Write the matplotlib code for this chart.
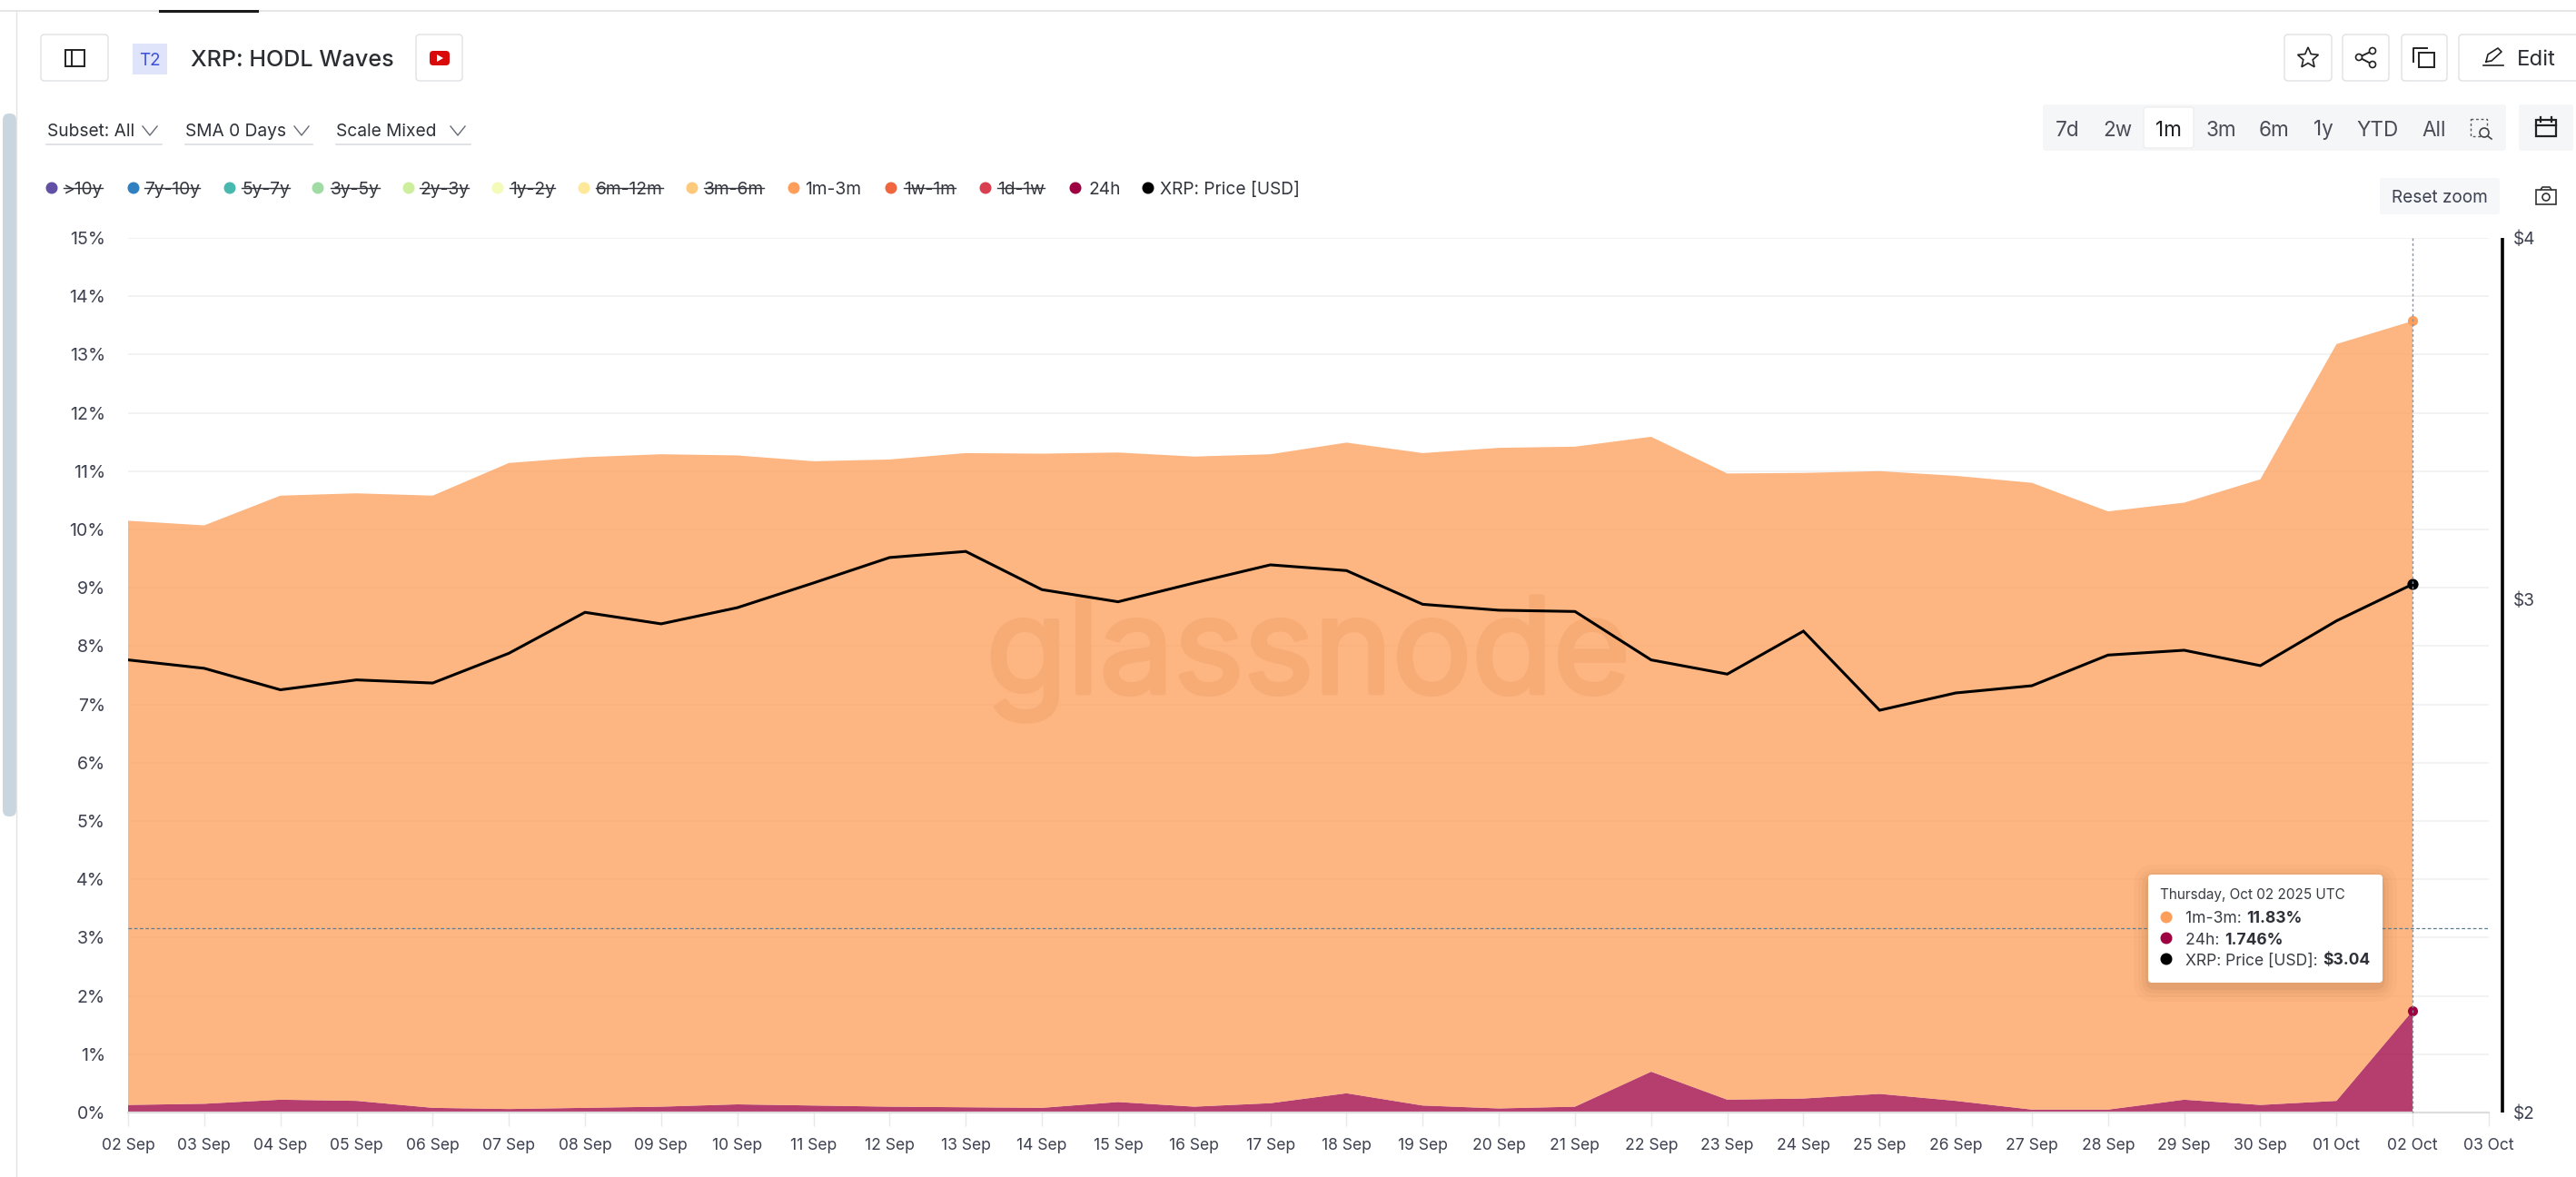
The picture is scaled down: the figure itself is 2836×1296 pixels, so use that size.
import numpy as np
import matplotlib
matplotlib.use('Agg')
import matplotlib.pyplot as plt
import matplotlib.patheffects as pe
from matplotlib.patches import FancyBboxPatch, Rectangle, Circle, Polygon

plt.rcParams['font.family'] = ['Inter', 'DejaVu Sans']

W, H = 2836, 1296
PX = 72 / 200  # font px -> pt at dpi 200

date_labels = ['02 Sep', '03 Sep', '04 Sep', '05 Sep', '06 Sep', '07 Sep', '08 Sep', '09 Sep',
               '10 Sep', '11 Sep', '12 Sep', '13 Sep', '14 Sep', '15 Sep', '16 Sep', '17 Sep',
               '18 Sep', '19 Sep', '20 Sep', '21 Sep', '22 Sep', '23 Sep', '24 Sep', '25 Sep',
               '26 Sep', '27 Sep', '28 Sep', '29 Sep', '30 Sep', '01 Oct', '02 Oct', '03 Oct']
h24 = [0.13, 0.15, 0.22, 0.20, 0.08, 0.06, 0.08, 0.10, 0.14, 0.12, 0.10, 0.09, 0.08, 0.18, 0.10, 0.16,
       0.33, 0.12, 0.07, 0.10, 0.70, 0.22, 0.24, 0.32, 0.20, 0.05, 0.05, 0.22, 0.13, 0.20, 1.746]
m1_3 = [10.02, 9.92, 10.36, 10.42, 10.50, 11.08, 11.16, 11.19, 11.13, 11.05, 11.10, 11.22, 11.22, 11.14, 11.15, 11.13,
        11.16, 11.19, 11.33, 11.32, 10.89, 10.74, 10.73, 10.68, 10.72, 10.75, 10.26, 10.24, 10.73, 12.98, 11.83]
price = [2.863, 2.844, 2.796, 2.818, 2.811, 2.878, 2.973, 2.946, 2.984, 3.043, 3.105, 3.120, 3.027, 2.998, 3.043, 3.087,
         3.073, 2.992, 2.978, 2.975, 2.863, 2.831, 2.929, 2.751, 2.789, 2.805, 2.874, 2.885, 2.850, 2.953, 3.04]
pct_ticks = list(range(16))

legend_names = ['>10y', '7y-10y', '5y-7y', '3y-5y', '2y-3y', '1y-2y', '6m-12m', '3m-6m',
                '1m-3m', '1w-1m', '1d-1w', '24h', 'XRP: Price [USD]']
legend_colors = ['#6150a5', '#2f7fc1', '#47b9ae', '#a0dba4', '#cdee9c', '#f4fab8', '#fee99a', '#fdc97a',
                 '#fd9e5a', '#f0663f', '#d8404f', '#9e0142', '#000000']
legend_off = [True, True, True, True, True, True, True, True, False, True, True, False, False]
legend_dot_x = [57, 147, 253, 350, 450, 548, 643, 762, 874, 981, 1085, 1184, 1264]
legend_text_x = [70, 159, 266, 364, 462, 561, 656, 775, 886, 995, 1098, 1198, 1277]

TXT = '#3d4150'
fig = plt.figure(figsize=(W / 200, H / 200), dpi=200, facecolor='white')

# main chart
L, R, T, B = 141, 2740, 262, 1225
ax = fig.add_axes([L / W, 1 - B / H, (R - L) / W, (B - T) / H])
x = np.arange(len(h24))
ax.stackplot(x, h24, m1_3, colors=['#9e0142', '#fd9e5a'], alpha=0.76, lw=0, zorder=2)
ax.set_xlim(0, len(date_labels) - 1)
ax.set_ylim(0, 15)
ax.set_xticks(np.arange(len(date_labels)))
ax.set_xticklabels(date_labels, fontsize=17.5 * PX, color=TXT)
ax.set_yticks(pct_ticks)
ax.set_yticklabels([f'{v}%' for v in pct_ticks], fontsize=19.5 * PX, color=TXT)
ax.grid(axis='y', color='#f0f0f0', lw=0.6, zorder=1)
ax.tick_params(axis='y', length=0, pad=9)
ax.tick_params(axis='x', length=15 * PX, width=0.5, color='#e8e8e8', pad=4.6)
for s in ['top', 'left', 'right']:
    ax.spines[s].set_visible(False)
ax.spines['bottom'].set_color('#dddddd')
ax.spines['bottom'].set_linewidth(0.8)
ax.plot(x[-1], h24[-1] + m1_3[-1], 'o', ms=3.0, color='#fd9e5a', zorder=6, clip_on=False)
ax.plot(x[-1], h24[-1], 'o', ms=3.0, color='#9e0142', zorder=6, clip_on=False)

# price on the log axis
ax2 = ax.twinx()
ax2.set_yscale('log')
ax2.set_ylim(2, 4)
ax2.plot(x, price, color='black', lw=1.1, zorder=5, solid_joinstyle='miter')
ax2.plot(x[-1], price[-1], 'o', ms=3.4, color='black', zorder=6, clip_on=False)
ax2.set_yticks([])
ax2.minorticks_off()
ax2.set_yticks([], minor=True)
for s in ax2.spines.values():
    s.set_visible(False)

# page chrome, in pixels of the screenshot
ui = fig.add_axes([0, 0, 1, 1], facecolor='none')
ui.set_xlim(0, W)
ui.set_ylim(H, 0)
ui.axis('off')


def box(x0, y0, x1, y1, fc='white', ec='#dfe1e5', r=4, lw=0.5, z=3, alpha=None):
    p = FancyBboxPatch((x0, y0), x1 - x0, y1 - y0, boxstyle=f'round,pad=0,rounding_size={r}',
                       fc=fc, ec=ec, lw=lw, zorder=z, alpha=alpha)
    ui.add_patch(p)
    return p


def text(px, py, s, size=19, color=TXT, ha='left', weight='normal', z=5):
    return ui.text(px, py, s, fontsize=size * PX, color=color, ha=ha, va='center_baseline',
                   fontweight=weight, zorder=z)


def chevron(cx, cy):
    ui.plot([cx - 8, cx, cx + 8], [cy - 5, cy + 5, cy - 5], color='#666a75', lw=0.5)


def line(xs, ys, c='#222222', lw=0.7, z=5, **kw):
    ui.plot(xs, ys, color=c, lw=lw, zorder=z, **kw)


# watermark sits under the price line, so it goes on the main axes
ax.text(1440, 763, 'glassnode', fontsize=146 * PX, color='#f7ab75', ha='center', va='baseline',
        transform=ui.transData, zorder=3, clip_on=False,
        path_effects=[pe.withStroke(linewidth=1.6, foreground='#f7ab75')])

# top strip and sidebar
line([0, W], [12, 12], '#e6e6e6', 0.7)
line([176, 283], [11.5, 11.5], '#1a1a1a', 1.1)
line([18, 18], [12, H], '#e4e4e4', 0.5)
box(3, 125, 18, 899, fc='#c9d6e0', ec='none', r=7)

# header
box(45, 38, 119, 89)
ui.add_patch(Rectangle((72, 55), 21, 18, fc='none', ec='#222222', lw=0.7, zorder=5))
line([79, 79], [55, 73])
ui.add_patch(Rectangle((146, 48), 38, 34, fc='#e0e4fa', ec='none', zorder=4))
text(165, 65, 'T2', 19, '#3f51d8', 'center')
text(210, 64, 'XRP: HODL Waves', 25.2, '#2b2d33', weight='medium')
box(458, 38, 509, 89)
box(473, 56, 495, 72, fc='#d90a0a', ec='none', r=4, z=4)
ui.add_patch(Polygon([[481, 60], [481, 68], [488, 64]], fc='white', ec='none', zorder=5))

box(2515, 38, 2567, 89)
box(2579, 38, 2630, 89)
box(2644, 38, 2694, 89)
box(2707, 38, 2860, 89)
ang = np.deg2rad(np.arange(11) * 36 - 90)
rad = np.where(np.arange(11) % 2 == 0, 12, 5.5)
ui.add_patch(Polygon(np.c_[2541 + rad * np.cos(ang), 64 + rad * np.sin(ang)], fc='none', ec='#222222', lw=0.6, zorder=5))
share_x, share_y = [2612, 2597, 2612], [56, 63, 71]
line(share_x, share_y)
for sx, sy in zip(share_x, share_y):
    ui.add_patch(Circle((sx, sy), 3.5, fc='white', ec='#222222', lw=0.6, zorder=6))
ui.add_patch(Rectangle((2663, 58), 17, 16, fc='none', ec='#222222', lw=0.7, zorder=5))
line([2657, 2657, 2672], [68, 53, 53])
line([2734, 2756], [72, 72], '#222222', 0.6)
line([2737, 2739, 2750, 2754, 2743, 2737], [68, 60, 53, 57, 67, 68], '#222222', 0.6)
text(2771, 64, 'Edit', 24, '#2b2d33')

# dropdowns
for tx, lab, cx, u0, u1 in [(52, 'Subset: All', 165, 51, 178),
                            (204, 'SMA 0 Days', 332, 204, 344),
                            (370, 'Scale Mixed', 504, 370, 518)]:
    text(tx, 143, lab, 19.2, '#2f3138')
    chevron(cx, 144)
    line([u0, u1], [159, 159], '#dcdde0', 0.6)

# range selector
box(2249, 115, 2759, 166, fc='#f5f6f8', ec='none', r=3)
box(2360, 118, 2415, 163, fc='white', ec='#eeeeee', r=3, z=4)
for cx, lab in [(2276, '7d'), (2331, '2w'), (2387, '1m'), (2445, '3m'), (2504, '6m'),
                (2558, '1y'), (2618, 'YTD'), (2680, 'All')]:
    text(cx, 141, lab, 22.5, '#1f2024' if lab == '1m' else '#4a4d57', 'center')
ui.add_patch(Rectangle((2720, 131), 18, 19, fc='none', ec='#555555', lw=0.5, ls=(0, (2, 2)), zorder=5))
ui.add_patch(Circle((2735, 146), 5, fc='#f5f6f8', ec='#444444', lw=0.6, zorder=6))
line([2739, 2743], [150, 153], '#444444', 0.6, z=6)
box(2773, 115, 2833, 166, fc='#f5f6f8', ec='none', r=3)
ui.add_patch(Rectangle((2792, 132), 22, 18, fc='none', ec='#222222', lw=0.8, zorder=5))
line([2792, 2814], [138, 138], '#222222', 0.8)
line([2797, 2797], [129, 134], '#222222', 0.8)
line([2809, 2809], [129, 134], '#222222', 0.8)

box(2620, 196, 2752, 236, fc='#f6f7f9', ec='none', r=3)
text(2686, 216, 'Reset zoom', 19, '#3d4150', 'center')
ui.add_patch(Rectangle((2792, 209), 22, 16, fc='none', ec='#333333', lw=0.6, zorder=5))
ui.add_patch(Circle((2803, 217), 4, fc='none', ec='#333333', lw=0.6, zorder=5))
line([2797, 2799, 2807, 2809], [209, 206, 206, 209], '#333333', 0.6)

# legend
fig.canvas.draw()
rend = fig.canvas.get_renderer()
inv = ui.transData.inverted()
for name, col, off, dx, tx in zip(legend_names, legend_colors, legend_off, legend_dot_x, legend_text_x):
    ui.add_patch(Circle((dx, 207), 6.5, fc=col, ec='none', zorder=5))
    t = text(tx, 207, name, 19.2, '#34363e')
    if off:
        bb = t.get_window_extent(rend)
        x0 = inv.transform((bb.x0, bb.y0))[0]
        x1 = inv.transform((bb.x1, bb.y0))[0]
        line([x0, x1], [207, 207], '#34363e', 0.5, z=6)

# right axis
line([2754.6, 2754.6], [T, B], 'black', 1.3, z=4, solid_capstyle='butt')
for py, lab in [(T, '$4'), (660, '$3'), (B, '$2')]:
    text(2767, py, lab.replace('$', r'\$'), 19, TXT)

# crosshair
line([2656, 2656], [T, B], '#8a8f98', 0.5, z=3, ls=(0, (2, 2)))
line([L, R], [1022, 1022], '#5b7f95', 0.45, z=3, ls=(0, (3, 2)))

# tooltip with soft shadow
for grow, a in [(16, 0.025), (11, 0.035), (7, 0.05), (3, 0.07)]:
    box(2365 - grow, 963 - grow + 5, 2623 + grow, 1082 + grow + 5, fc='#7a4a20', ec='none', r=8 + grow, z=6, alpha=a)
box(2365, 963, 2623, 1082, ec='none', r=4, z=7)
text(2378, 984, 'Thursday, Oct 02 2025 UTC', 15.3, '#3a3c44', z=8)
rows = [('#fd9e5a', '1m-3m: ', '11.83%', 1010), ('#9e0142', '24h: ', '1.746%', 1033),
        ('#000000', 'XRP: Price [USD]: ', r'\$3.04', 1056)]
for col, lab, val, py in rows:
    ui.add_patch(Circle((2385, py), 6.5, fc=col, ec='none', zorder=8))
    t = text(2406, py, lab, 17.5, '#3a3c44', z=8)
    bb = t.get_window_extent(rend)
    text(inv.transform((bb.x1, bb.y0))[0] + 1, py, val, 17.5, '#2f3138', weight='bold', z=8)

fig.savefig('out.png', dpi=200)
